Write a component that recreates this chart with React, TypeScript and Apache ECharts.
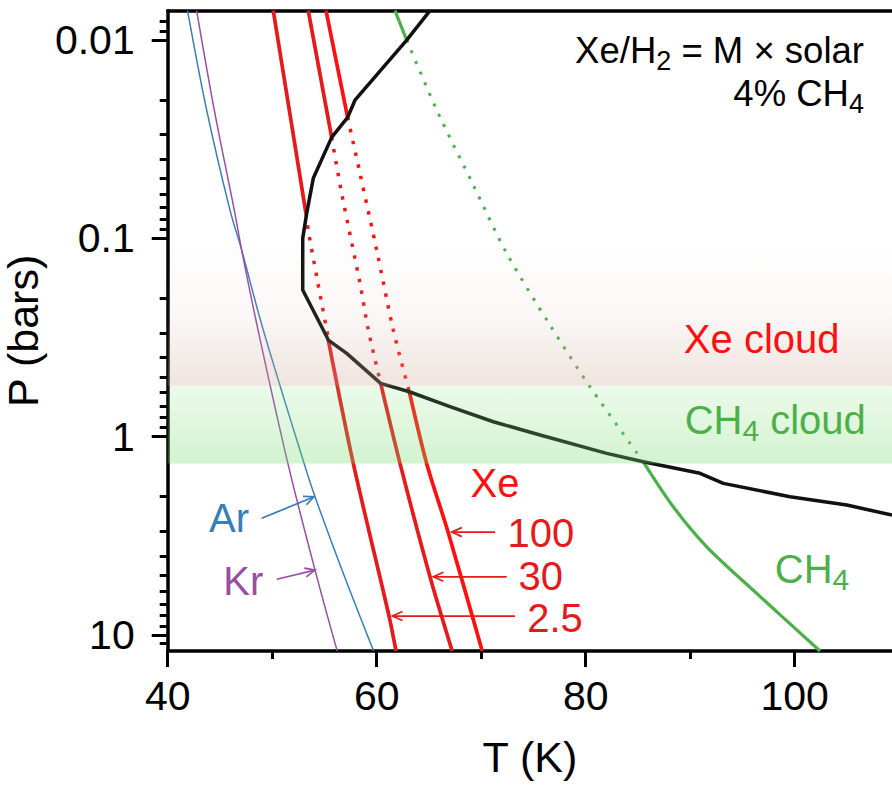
import React, { useEffect, useRef } from 'react';
import * as echarts from 'echarts';

const FONT = '"Liberation Sans", Arimo, Arial, Helvetica, sans-serif';

// ---------- axes ----------
const T_MIN = 40;
const T_MAX = 109.31;
const P_TOP = 0.00711;
const P_BOTTOM = 12.05;
const xMajorTicks = [40, 60, 80, 100];
const xMinorTicks = [50, 70, 90];
const yMajorTicks = [0.01, 0.1, 1, 10];
const yTickLabels = ['0.01', '0.1', '1', '10'];
const yMinorTicks = [0.008, 0.009, 0.02, 0.03, 0.04, 0.05, 0.06, 0.07, 0.08, 0.09,
  0.2, 0.3, 0.4, 0.5, 0.6, 0.7, 0.8, 0.9, 2, 3, 4, 5, 6, 7, 8, 9, 11];

// ---------- data: [T (K), P (bars)] ----------
const arCurve = [[41.9, 0.0071], [43.73, 0.02254], [45.96, 0.072], [47.08, 0.1146], [49.1, 0.2843],
  [53.05, 1.364], [54.1, 2.01], [56.68, 4.71], [59.7, 12.05]];
const krCurve = [[42.77, 0.0071], [44.46, 0.02254], [46.37, 0.072], [47.08, 0.1146], [48.61, 0.2843],
  [51.5, 1.364], [54.1, 4.71], [56.22, 12.05]];

const xe25Upper = [[50.1, 0.0071], [53.23, 0.0748]];
const xe25Cloud = [[53.23, 0.0748], [53.45, 0.0908], [54.26, 0.1562], [55.22, 0.29], [55.37, 0.3257]];
const xe25Lower = [[55.37, 0.3257], [57.76, 1.364], [61.18, 8.03], [61.85, 12.05]];

const xe30Upper = [[53.45, 0.0071], [55.69, 0.03095]];
const xe30Cloud = [[55.69, 0.03095], [56.65, 0.0593], [58.4, 0.1686], [59.2, 0.29], [60.38, 0.5385]];
const xe30Lower = [[60.38, 0.5385], [62.23, 1.364], [65.1, 5.09], [67.22, 12.05]];

const xe100Upper = [[55.15, 0.0071], [57.22, 0.02454]];
const xe100Cloud = [[57.22, 0.02454], [58.4, 0.047], [60.0, 0.1146], [61.59, 0.29], [63.12, 0.5937]];
const xe100Lower = [[63.12, 0.5937], [64.78, 1.364], [66.82, 3.018], [70.1, 12.05]];

const profile = [[65.1, 0.0071], [62.87, 0.01], [57.92, 0.0201], [57.22, 0.02454], [55.69, 0.03095],
  [53.93, 0.0498], [53.3, 0.0748], [52.92, 0.1], [52.92, 0.1823], [54.89, 0.29], [55.37, 0.3257],
  [57.13, 0.38], [60.38, 0.5385], [63.12, 0.5937], [67.01, 0.7064], [71.16, 0.841], [75.63, 0.9815],
  [82.01, 1.214], [85.51, 1.339], [90.94, 1.531], [93.17, 1.72], [99.55, 2.01], [104.98, 2.213],
  [109.31, 2.485]];

const ch4Upper = [[61.75, 0.0071], [62.87, 0.01]];
const ch4Cloud = [[62.87, 0.01], [65.89, 0.02342], [69.24, 0.0538], [72.44, 0.119], [76.58, 0.2737],
  [80.41, 0.5604], [85.51, 1.339]];
const ch4Lower = [[85.51, 1.339], [88.38, 2.257], [91.58, 3.592], [96.36, 6.17], [102.42, 12.05]];

// cloud layers [P top, P bottom]
const xeCloudBand = [0.1, 0.554];
const ch4CloudBand = [0.554, 1.364];

// ---------- styles ----------
const AR_COLOR = '#377eb8';
const KR_COLOR = '#984ea3';
const XE_COLOR = '#e41a1c';
const XE_BRIGHT = '#ff1010';
const CH4_COLOR = '#4daf4a';
const PROFILE_COLOR = '#111111';

const lg = (p: number) => Math.log10(p);
const toXY = (pts: number[][]) => pts.map(([t, p]) => [t, lg(p)]);

function lineSeries(name: string, pts: number[][], color: string, width: number, dash: number[] | null, smooth: number) {
  return {
    type: 'line',
    name,
    data: toXY(pts),
    xAxisIndex: 0,
    yAxisIndex: 0,
    showSymbol: false,
    symbol: 'none',
    smooth,
    silent: true,
    z: 2,
    lineStyle: { color, width, type: dash ? dash : 'solid', cap: 'butt', join: 'round' },
  };
}

const RED_DOT = [3.5, 8.5];
const GREEN_DOT = [3, 8.5];

export default function App() {
  const ref = useRef<HTMLDivElement>(null);

  useEffect(() => {
    const chart = echarts.init(ref.current as HTMLDivElement, null, { renderer: 'svg' });
    const yMin = lg(P_TOP);
    const yMax = lg(P_BOTTOM);
    const axisTextBase = { fontFamily: FONT, color: '#000' };

    const option: any = {
      animation: false,
      backgroundColor: '#ffffff',
      grid: { left: 167.7, right: 0, top: 10.7, bottom: 134, containLabel: false, outerBoundsMode: 'none' },
      xAxis: [
        {
          type: 'value', min: T_MIN, max: T_MAX, position: 'bottom',
          axisLine: { show: true, onZero: false, lineStyle: { color: '#000', width: 3.5 } },
          axisTick: { show: true, customValues: xMajorTicks, length: 16, lineStyle: { color: '#000', width: 3 } },
          axisLabel: { show: true, customValues: xMajorTicks, fontSize: 41, margin: 24, ...axisTextBase },
          splitLine: { show: false },
          name: 'T (K)', nameLocation: 'middle', nameGap: 84,
          nameTextStyle: { fontSize: 43, ...axisTextBase },
        },
        {
          type: 'value', min: T_MIN, max: T_MAX, position: 'bottom',
          axisLine: { show: false, onZero: false },
          axisTick: { show: true, customValues: xMinorTicks, length: 8, lineStyle: { color: '#000', width: 3 } },
          axisLabel: { show: false },
          splitLine: { show: false },
        },
        {
          type: 'value', min: T_MIN, max: T_MAX, position: 'top',
          axisLine: { show: true, onZero: false, lineStyle: { color: '#000', width: 3.5 } },
          axisTick: { show: false },
          axisLabel: { show: false },
          splitLine: { show: false },
        },
      ],
      yAxis: [
        {
          type: 'value', min: yMin, max: yMax, inverse: true, position: 'left',
          axisLine: { show: true, onZero: false, lineStyle: { color: '#000', width: 3.5 } },
          axisTick: { show: true, customValues: yMajorTicks.map(lg), length: 16, lineStyle: { color: '#000', width: 3 } },
          axisLabel: {
            show: true, customValues: yMajorTicks.map(lg), fontSize: 41, margin: 33, ...axisTextBase,
            formatter: (v: number) => {
              const i = yMajorTicks.findIndex((p) => Math.abs(lg(p) - v) < 1e-6);
              return i >= 0 ? yTickLabels[i] : '';
            },
          },
          splitLine: { show: false },
          name: 'P (bars)', nameLocation: 'middle', nameRotate: 90, nameGap: 116,
          nameTextStyle: { fontSize: 43, ...axisTextBase },
        },
        {
          type: 'value', min: yMin, max: yMax, inverse: true, position: 'left',
          axisLine: { show: false, onZero: false },
          axisTick: { show: true, customValues: yMinorTicks.map(lg), length: 8, lineStyle: { color: '#000', width: 3 } },
          axisLabel: { show: false },
          splitLine: { show: false },
        },
      ],
      series: [
        lineSeries('Ar', arCurve, AR_COLOR, 1.5, null, 0.35),
        lineSeries('Kr', krCurve, KR_COLOR, 1.5, null, 0.35),
        lineSeries('Xe 2.5 upper', xe25Upper, XE_COLOR, 3.7, null, 0),
        lineSeries('Xe 2.5 cloud', xe25Cloud, XE_COLOR, 3.5, RED_DOT, 0.3),
        lineSeries('Xe 2.5 lower', xe25Lower, XE_COLOR, 3.7, null, 0.3),
        lineSeries('Xe 30 upper', xe30Upper, XE_COLOR, 3.7, null, 0),
        lineSeries('Xe 30 cloud', xe30Cloud, XE_COLOR, 3.5, RED_DOT, 0.3),
        lineSeries('Xe 30 lower', xe30Lower, XE_COLOR, 3.7, null, 0.3),
        lineSeries('Xe 100 upper', xe100Upper, XE_BRIGHT, 3.7, null, 0),
        lineSeries('Xe 100 cloud', xe100Cloud, XE_BRIGHT, 3.5, RED_DOT, 0.3),
        lineSeries('Xe 100 lower', xe100Lower, XE_BRIGHT, 3.7, null, 0.3),
        lineSeries('CH4 upper', ch4Upper, CH4_COLOR, 3.2, null, 0),
        lineSeries('CH4 cloud', ch4Cloud, CH4_COLOR, 3, GREEN_DOT, 0.3),
        lineSeries('CH4 lower', ch4Lower, CH4_COLOR, 3.2, null, 0.3),
        lineSeries('T-P profile', profile, PROFILE_COLOR, 3.5, null, 0),
        {
          type: 'line', name: 'clouds', data: [], xAxisIndex: 0, yAxisIndex: 0, silent: true,
          markArea: {
            silent: true,
            z: 10,
            data: [
              [
                {
                  coord: [T_MIN, lg(xeCloudBand[0])],
                  itemStyle: {
                    color: {
                      type: 'linear', x: 0, y: 0, x2: 0, y2: 1,
                      colorStops: [
                        { offset: 0, color: 'rgba(205,170,155,0)' },
                        { offset: 0.55, color: 'rgba(205,170,155,0.1)' },
                        { offset: 1, color: 'rgba(205,170,155,0.32)' },
                      ],
                    },
                  },
                },
                { coord: [T_MAX, lg(xeCloudBand[1])] },
              ],
              [
                {
                  coord: [T_MIN, lg(ch4CloudBand[0])],
                  itemStyle: {
                    color: {
                      type: 'linear', x: 0, y: 0, x2: 0, y2: 1,
                      colorStops: [
                        { offset: 0, color: 'rgba(120,220,110,0.14)' },
                        { offset: 1, color: 'rgba(120,220,110,0.33)' },
                      ],
                    },
                  },
                },
                { coord: [T_MAX, lg(ch4CloudBand[1])] },
              ],
            ],
          },
        },
      ],
    };
    chart.setOption(option);

    const px = (t: number, p: number) =>
      chart.convertToPixel({ xAxisIndex: 0, yAxisIndex: 0 }, [t, lg(p)]) as number[];

    const text = (t: number, p: number, str: string, color: string, size: number, align: string) => {
      const [x, y] = px(t, p);
      return {
        type: 'text', x, y, z: 100, silent: true,
        style: {
          text: str, fill: color, fontSize: size, fontFamily: FONT,
          align, textAlign: align, verticalAlign: 'middle', textVerticalAlign: 'middle',
        },
      };
    };

    const subText = (t: number, p: number, parts: [string, boolean][], color: string, size: number, subSize: number, pad: number, align: string) => {
      const [x, y] = px(t, p);
      const str = parts.map(([s, sub]) => `{${sub ? 's' : 'm'}|${s}}`).join('');
      return {
        type: 'text', x, y, z: 100, silent: true,
        style: {
          text: str, fill: color, fontSize: size, fontFamily: FONT,
          align, textAlign: align, verticalAlign: 'middle', textVerticalAlign: 'middle',
          rich: {
            m: { fontSize: size, fontFamily: FONT, fill: color },
            s: { fontSize: subSize, fontFamily: FONT, fill: color, padding: [pad, 0, 0, 0] },
          },
        },
      };
    };

    const arrow = (tail: number[], tip: number[], color: string) => {
      const a = px(tail[0], tail[1]);
      const b = px(tip[0], tip[1]);
      const dx = b[0] - a[0];
      const dy = b[1] - a[1];
      const len = Math.hypot(dx, dy);
      const bx = -dx / len;
      const by = -dy / len;
      const h = 11;
      const ang = 0.42;
      const rot = (s: number) => [
        b[0] + h * (bx * Math.cos(s) - by * Math.sin(s)),
        b[1] + h * (bx * Math.sin(s) + by * Math.cos(s)),
      ];
      return [
        { type: 'line', z: 100, silent: true, shape: { x1: a[0], y1: a[1], x2: b[0], y2: b[1] }, style: { stroke: color, lineWidth: 1.7 } },
        { type: 'polyline', z: 100, silent: true, shape: { points: [rot(ang), b, rot(-ang)] }, style: { stroke: color, lineWidth: 1.7, fill: null } },
      ];
    };

    const graphics: any[] = [
      text(45.87, 2.585, 'Ar', AR_COLOR, 40, 'center'),
      text(47.23, 5.35, 'Kr', KR_COLOR, 40, 'center'),
      text(71.32, 1.704, 'Xe', XE_BRIGHT, 40, 'center'),
      text(75.7, 3.063, '100', XE_COLOR, 40, 'center'),
      text(75.7, 5.064, '30', XE_COLOR, 40, 'center'),
      text(77.06, 8.17, '2.5', XE_COLOR, 40, 'center'),
      text(96.84, 0.3227, 'Xe cloud', XE_BRIGHT, 40, 'center'),
      subText(89.47, 0.8245, [['CH', false], ['4', true], [' cloud', false]], CH4_COLOR, 40, 30, 21, 'left'),
      subText(98.09, 4.653, [['CH', false], ['4', true]], CH4_COLOR, 40, 30, 21, 'left'),
      subText(106.63, 0.01131, [['Xe/H', false], ['2', true], [' = M × solar', false]], '#000', 36.5, 27, 20, 'right'),
      subText(106.63, 0.0187, [['4% CH', false], ['4', true]], '#000', 36.5, 27, 20, 'right'),
      ...arrow([49.0, 2.58], [54.0, 2.01], AR_COLOR),
      ...arrow([50.43, 5.24], [54.1, 4.71], KR_COLOR),
      ...arrow([71.32, 3.03], [67.18, 3.03], XE_COLOR),
      ...arrow([72.44, 5.09], [65.42, 5.09], XE_COLOR),
      ...arrow([73.23, 8.03], [61.5, 8.03], XE_COLOR),
    ];
    chart.setOption({ graphic: graphics });

    return () => chart.dispose();
  }, []);

  return <div ref={ref} style={{ position: 'absolute', left: 0, top: 0, width: 892, height: 785 }} />;
}
